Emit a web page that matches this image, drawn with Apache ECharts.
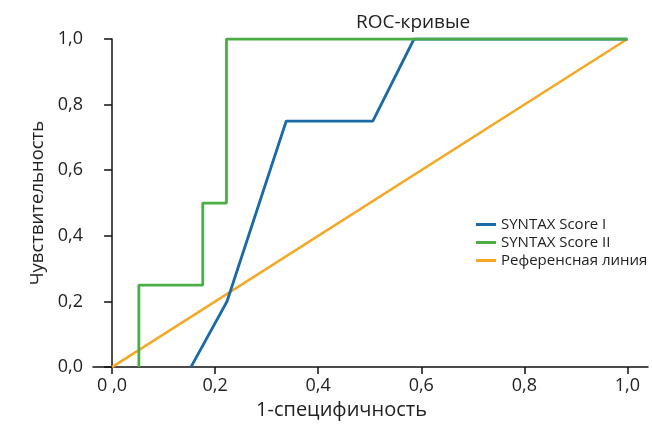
<!DOCTYPE html>
<html>
<head>
<meta charset="utf-8">
<script src="https://cdn.jsdelivr.net/npm/echarts@6/dist/echarts.min.js"></script>
<style>
  html, body { margin: 0; padding: 0; background: #fff; }
  #chart { width: 652px; height: 425px; }
</style>
</head>
<body>
<div id="chart"></div>
<script>
// ROC points: [1-specificity, sensitivity]
const syntaxScore1 = [[0.153, 0], [0.223, 0.2], [0.338, 0.75], [0.506, 0.75], [0.586, 1], [1, 1]]
const syntaxScore2 = [[0.052, 0], [0.052, 0.25], [0.176, 0.25], [0.176, 0.5], [0.222, 0.5], [0.222, 1], [1, 1]]
const referenceLine = [[0, 0], [1, 1]]
const tickValues = [0, 0.2, 0.4, 0.6, 0.8, 1.0]
const seriesNames = ['SYNTAX Score I', 'SYNTAX Score II', 'Референсная линия']
const colors = ['#1b6aa8', '#4aad46', '#f6a824']

const font = '"Open Sans", sans-serif'
const fmt = v => v.toFixed(1).replace('.', ',')

const chart = echarts.init(document.getElementById('chart'))
chart.setOption({
  animation: false,
  title: {
    text: 'ROC-кривые',
    left: 351,
    top: 8,
    textStyle: { fontFamily: font, fontSize: 19, fontWeight: 'normal', color: '#222' }
  },
  legend: {
    left: 471,
    top: 212,
    orient: 'vertical',
    itemWidth: 20,
    itemHeight: 3,
    itemGap: 3,
    icon: 'rect',
    data: seriesNames,
    textStyle: { fontFamily: font, fontSize: 15, color: '#222' }
  },
  grid: { left: 93, right: 4, top: 39, bottom: 55, containLabel: false },
  xAxis: {
    type: 'value',
    min: -0.037,
    max: 1.04,
    name: '1-специфичность',
    nameLocation: 'middle',
    nameGap: 30,
    nameTextStyle: { fontFamily: font, fontSize: 20, color: '#222', padding: [0, 58, 0, 0] },
    axisLine: { lineStyle: { color: '#111', width: 1.5 } },
    axisTick: { show: true, customValues: tickValues, length: 7, lineStyle: { color: '#111', width: 1.5 } },
    axisLabel: {
      customValues: tickValues,
      formatter: v => (v === 0 ? '0 ,0' : fmt(v)),
      fontFamily: font, fontSize: 18, color: '#222', margin: 10
    },
    splitLine: { show: false }
  },
  yAxis: {
    type: 'value',
    min: 0,
    max: 1,
    interval: 0.2,
    name: 'Чувствительность',
    nameLocation: 'middle',
    nameGap: 46,
    nameTextStyle: { fontFamily: font, fontSize: 18.5, color: '#222' },
    axisLine: { show: true, lineStyle: { color: '#111', width: 1.5 } },
    axisTick: { show: true, length: 8, lineStyle: { color: '#111', width: 1.5 } },
    axisLabel: { formatter: fmt, fontFamily: font, fontSize: 18, color: '#222', margin: 10 },
    splitLine: { show: false }
  },
  series: [
    { name: seriesNames[2], type: 'line', data: referenceLine, showSymbol: false, z: 2,
      lineStyle: { width: 2.5, color: colors[2] }, itemStyle: { color: colors[2] } },
    { name: seriesNames[0], type: 'line', data: syntaxScore1, showSymbol: false, z: 3,
      lineStyle: { width: 2.8, color: colors[0] }, itemStyle: { color: colors[0] } },
    { name: seriesNames[1], type: 'line', data: syntaxScore2, showSymbol: false, z: 4,
      lineStyle: { width: 2.8, color: colors[1] }, itemStyle: { color: colors[1] } }
  ]
})
</script>
</body>
</html>
